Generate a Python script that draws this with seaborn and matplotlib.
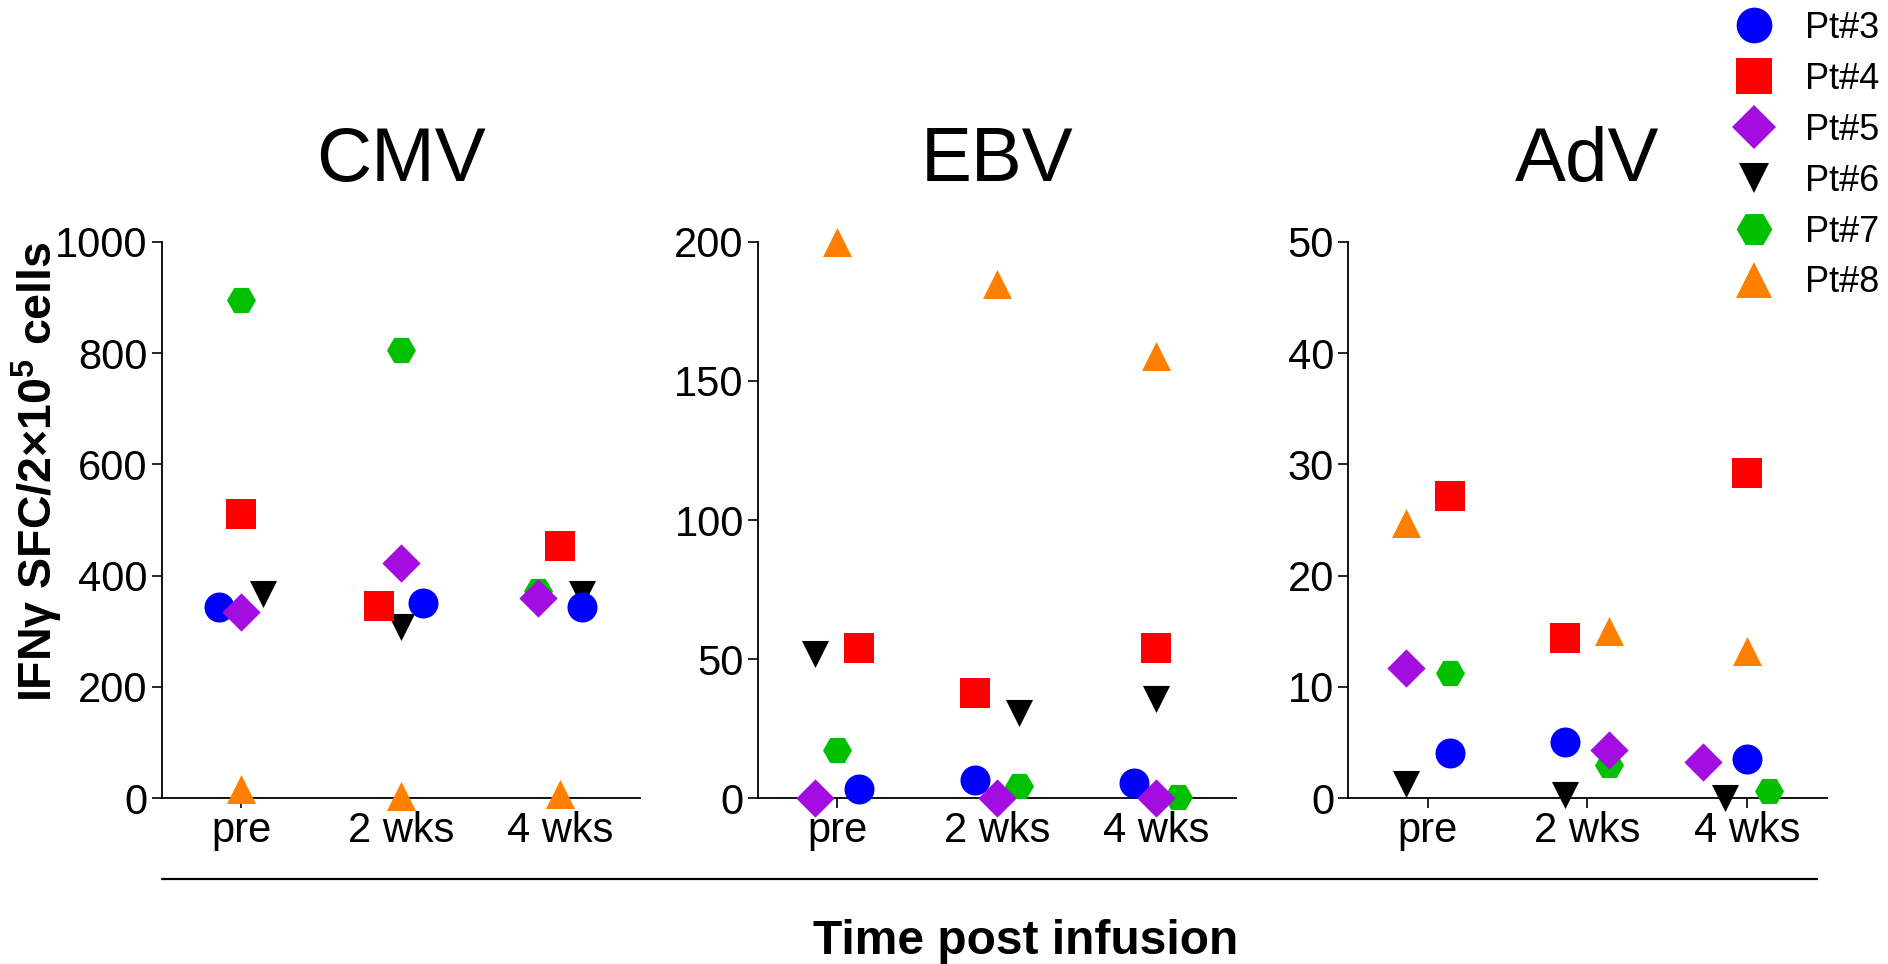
import matplotlib
matplotlib.use("Agg")
import matplotlib.pyplot as plt
from matplotlib.lines import Line2D
import numpy as np
import pandas as pd
import seaborn as sns

# ---------------- data ----------------
viruses = ["CMV", "EBV", "AdV"]
timepoints = ["pre", "2 wks", "4 wks"]
patients = ["Pt#3", "Pt#4", "Pt#5", "Pt#6", "Pt#7", "Pt#8"]
y_max = [1000, 200, 50]
y_step = [200, 50, 10]

# rows = patients (Pt#3..Pt#8), columns = timepoints (pre, 2 wks, 4 wks)
cmv_values = [
    [343, 350, 343],
    [510, 345, 453],
    [335, 422, 360],
    [367, 307, 367],
    [895, 805, 372],
    [17, 4.5, 8.6],
]
ebv_values = [
    [3.5, 6.5, 5.4],
    [54, 37.7, 54],
    [0, 0, 0],
    [51.9, 30.8, 35.8],
    [17.4, 4.4, 0.5],
    [199.9, 184.8, 158.8],
]
adv_values = [
    [4.1, 5.1, 3.5],
    [27.2, 14.4, 29.2],
    [11.7, 4.3, 3.3],
    [1.3, 0.3, 0.0],
    [11.3, 3.0, 0.66],
    [24.7, 15.0, 13.2],
]

# horizontal spreading slot of overlapping points (GraphPad-style scatter)
cmv_spread = [[-1, 1, 1], [0, -1, 0], [0, 0, -1], [1, 0, 1], [0, 0, -1], [0, 0, 0]]
ebv_spread = [[1, -1, -1], [1, -1, 0], [-1, 0, 0], [-1, 1, 0], [0, 1, 1], [0, 0, 0]]
adv_spread = [[1, -1, 0], [1, -1, 0], [-1, 1, -2], [-1, -1, -1], [1, 1, 1], [-1, 1, 0]]

# ---------------- styles ----------------
colors = ["#0000FF", "#FF0000", "#A30DE0", "#000000", "#00C000", "#FF7F00"]
markers = ["o", "s", "D", "v", "H", "^"]
plot_ms = [21.6, 22.3, 19.5, 19.5, 20.9, 20.9]      # marker size (pt)
legend_ms = [25.7, 25.7, 22.4, 22.3, 25.7, 25.7]
draw_order = [5, 4, 3, 1, 0, 2]
slot_width = 0.138

sns.set_style("ticks")
plt.rcParams["font.family"] = ["Liberation Sans", "DejaVu Sans"]
plt.rcParams["mathtext.default"] = "regular"
plt.rcParams["text.color"] = "black"
plt.rcParams["axes.labelcolor"] = "black"
plt.rcParams["xtick.color"] = "black"
plt.rcParams["ytick.color"] = "black"

W, H = 1888, 964
fig = plt.figure(figsize=(W / 100, H / 100), dpi=100)

axes_px = [(161.7, 640.0), (757.7, 1236.0), (1348.0, 1826.7)]
top_px, bot_px = 241.7, 798.3

all_values = [cmv_values, ebv_values, adv_values]
all_spread = [cmv_spread, ebv_spread, adv_spread]

for vi, virus in enumerate(viruses):
    l, r = axes_px[vi]
    ax = fig.add_axes([l / W, 1 - bot_px / H, (r - l) / W, (bot_px - top_px) / H])
    rows = []
    for pi, p in enumerate(patients):
        for ti, t in enumerate(timepoints):
            rows.append({"patient": p, "time": ti,
                         "value": all_values[vi][pi][ti],
                         "xpos": ti + all_spread[vi][pi][ti] * slot_width})
    df = pd.DataFrame(rows)
    for pi in draw_order:
        sub = df[df["patient"] == patients[pi]]
        sns.scatterplot(data=sub, x="xpos", y="value", ax=ax,
                        marker=markers[pi], color=colors[pi],
                        s=plot_ms[pi] ** 2, linewidth=0, clip_on=False,
                        zorder=3, legend=False)
    ax.set_xlim(-0.5, 2.5)
    ax.set_ylim(0, y_max[vi])
    ax.set_yticks(np.arange(0, y_max[vi] + 1, y_step[vi]))
    ax.set_xticks(range(len(timepoints)))
    ax.set_xticklabels(timepoints)
    ax.set_xlabel("")
    ax.set_ylabel("")
    sns.despine(ax=ax)
    for s in ["left", "bottom"]:
        ax.spines[s].set_linewidth(1.3)
        ax.spines[s].set_color("black")
    ax.tick_params(axis="both", direction="out", length=7, width=1.2,
                   labelsize=30, colors="black")
    ax.tick_params(axis="x", pad=2)
    ax.tick_params(axis="y", pad=3)
    ax.set_title(virus, fontsize=55, pad=44, color="black")

fig.text(37 / W, 1 - 472 / H, "IFN\u03b3 SFC/2\u00d710$^5$ cells", rotation=90,
         ha="center", va="center", fontsize=33.5, fontweight="bold")

fig.add_artist(Line2D([162 / W, 1817 / W], [1 - 879 / H, 1 - 879 / H],
                      color="black", lw=1.6))
fig.text(1026 / W, 1 - 954 / H, "Time post infusion", ha="center",
         va="baseline", fontsize=34.5, fontweight="bold")

handles = [Line2D([], [], marker=markers[i], color=colors[i], linestyle="None",
                  markersize=legend_ms[i], markeredgewidth=0)
           for i in range(len(patients))]
fig.legend(handles, patients, loc="upper left",
           bbox_to_anchor=(1736 / W, 1 - 11 / H), frameon=False,
           borderpad=0, borderaxespad=0, handlelength=1.0,
           handletextpad=0.91, labelspacing=0.44, fontsize=26)

fig.savefig("out.png", dpi=100)
